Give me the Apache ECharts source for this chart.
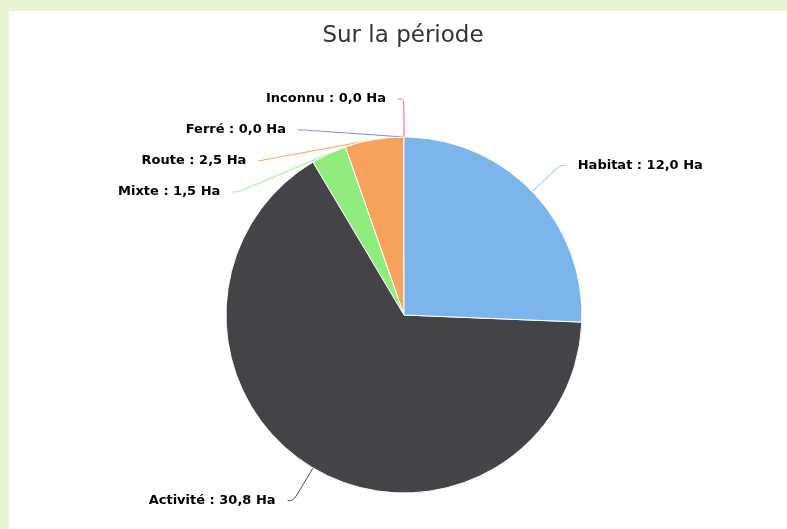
<!DOCTYPE html>
<html>
<head>
<meta charset="utf-8">
<script src="https://cdn.jsdelivr.net/npm/echarts@6/dist/echarts.min.js"></script>
<style>
html,body{margin:0;padding:0;width:787px;height:529px;background:#e8f5d2;overflow:hidden;}
#panel{position:absolute;left:9px;top:11px;width:778px;height:518px;background:#ffffff;}
#chart{width:778px;height:518px;}
</style>
</head>
<body>
<div id="panel"><div id="chart"></div></div>
<script>
var categories = ['Habitat', 'Activité', 'Mixte', 'Route', 'Ferré', 'Inconnu'];
var values = [12.0, 30.8, 1.5, 2.5, 0.0, 0.0];
var colors = ['#7cb5ec', '#434348', '#90ed7d', '#f7a35c', '#8085e9', '#f15c80'];
var titleText = 'Sur la période';
var unit = 'Ha';

// drawn counter-clockwise from the top, so the list is reversed
var data = categories.map(function (c, i) {
  return { name: c, value: values[i], itemStyle: { color: colors[i] }, labelLine: { lineStyle: { color: colors[i] } } };
}).reverse();

var chart = echarts.init(document.getElementById('chart'), null, { renderer: 'canvas' });
chart.setOption({
  animation: false,
  title: {
    text: titleText,
    left: 389,
    top: 9,
    textAlign: 'center',
    textStyle: { fontFamily: 'DejaVu Sans', fontWeight: 'normal', fontSize: 23, color: '#333333' }
  },
  series: [{
    type: 'pie',
    center: [395, 304],
    radius: 178,
    startAngle: 90.02,
    clockwise: false,
    avoidLabelOverlap: true,
    stillShowZeroSum: true,
    itemStyle: { borderColor: '#ffffff', borderWidth: 1 },
    label: {
      show: true,
      position: 'outside',
      formatter: function (p) { return p.name + ' : ' + p.value.toFixed(1).replace('.', ',') + ' ' + unit; },
      fontFamily: 'DejaVu Sans',
      fontWeight: 'bold',
      fontSize: 13,
      lineHeight: 29,
      color: '#000000',
      distanceToLabelLine: 12
    },
    labelLine: { show: true, length: 38, length2: 6, smooth: 0.4, lineStyle: { width: 1 } },
    data: data
  }]
});
</script>
</body>
</html>
